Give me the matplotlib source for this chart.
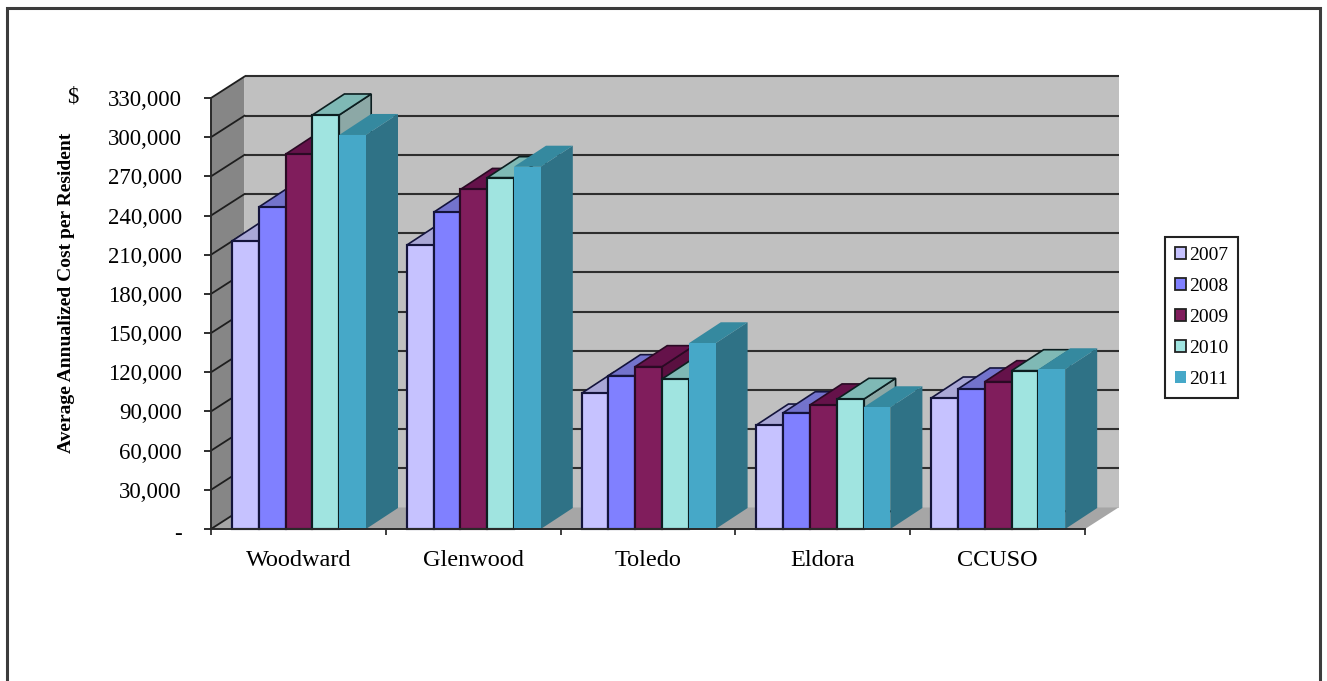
import matplotlib
matplotlib.use("Agg")
import matplotlib.pyplot as plt
from matplotlib.patches import Patch, Rectangle
from matplotlib.transforms import ScaledTranslation

plt.rcParams['font.family'] = ['Liberation Serif', 'DejaVu Serif']

# Данные: средние годовые расходы на одного жителя
facilities = ["Woodward", "Glenwood", "Toledo", "Eldora", "CCUSO"]
years = ["2007", "2008", "2009", "2010", "2011"]
cost_2007 = [220500, 217400, 103900, 79600, 100300]
cost_2008 = [246500, 242500, 117400, 89000, 107200]
cost_2009 = [287000, 260000, 124300, 95000, 112800]
cost_2010 = [317000, 269000, 114800, 99300, 121200]
cost_2011 = [301700, 277400, 142200, 93200, 122300]
costs = [cost_2007, cost_2008, cost_2009, cost_2010, cost_2011]
y_ticks = list(range(0, 330001, 30000))
y_labels = ["-"] + [f"{v:,}" for v in y_ticks[1:]]

front_colors = ["#C6C2FF", "#8080FF", "#801D5C", "#A0E4E0", "#46A8C8"]
top_colors = ["#A9A7D6", "#7373CC", "#65124A", "#7FB9B5", "#35899F"]
side_colors = ["#9D9ACB", "#6262B5", "#5A1040", "#8CA8A6", "#2F7286"]
edge_colors = ["#14143C", "#14143C", "#2A0A24", "#0C1E20", "none"]

W, H = 1327, 681
AX_L, AX_R, AX_T, AX_B = 211, 1085, 98, 529
px_x = 5 / (AX_R - AX_L)
px_y = 330000 / (AX_B - AX_T)

# Смещение глубины для псевдо-3D (стенки и столбцы)
wall_dx, wall_dy = 33.5 * px_x, 21.5 * px_y
bar_dx, bar_dy = 32 * px_x, 21 * px_y
bar_w = 26.8 * px_x
group_start = (232 - AX_L) * px_x

fig = plt.figure(figsize=(W / 100, H / 100), dpi=100)
fig.add_artist(Rectangle((7 / W, -0.02), (1320 - 7) / W, 1.02 - 8 / H,
                         transform=fig.transFigure, fill=False,
                         edgecolor="#3C3C3C", linewidth=2.2))

ax = fig.add_axes([AX_L / W, 1 - AX_B / H, (AX_R - AX_L) / W, (AX_B - AX_T) / H])
ax.patch.set_visible(False)
ax.set_xlim(0, 5)
ax.set_ylim(0, 330000)

# Задняя стенка, левая стенка и пол
ax.fill([wall_dx, 5 + wall_dx, 5 + wall_dx, wall_dx],
        [wall_dy, wall_dy, 330000 + wall_dy, 330000 + wall_dy],
        color="#C0C0C0", clip_on=False, zorder=1, lw=0)
ax.fill([0, wall_dx, wall_dx, 0], [0, wall_dy, 330000 + wall_dy, 330000],
        color="#868686", clip_on=False, zorder=1, lw=0)
ax.fill([0, 5, 5 + wall_dx, wall_dx], [0, 0, wall_dy, wall_dy],
        color="#A6A6A6", clip_on=False, zorder=1, lw=0)

# Линии сетки
for v in y_ticks[1:]:
    ax.plot([wall_dx, 5 + wall_dx], [v + wall_dy, v + wall_dy], color="#2E2E2E",
            lw=1.5, clip_on=False, zorder=2, solid_capstyle="butt")
for v in y_ticks:
    ax.plot([0, wall_dx], [v, v + wall_dy], color="#1E1E1E", lw=1.3,
            clip_on=False, zorder=2)

# Столбцы: боковая грань, верхняя грань, передняя грань
z = 3
for i in range(len(facilities)):
    for j in range(len(years)):
        value = costs[j][i]
        x0 = i + group_start + j * bar_w
        x1 = x0 + bar_w
        edge = edge_colors[j]
        lw = 1.2 if edge != "none" else 0
        ax.fill([x1, x1 + bar_dx, x1 + bar_dx, x1],
                [0, bar_dy, value + bar_dy, value],
                facecolor=side_colors[j], edgecolor=edge, lw=lw,
                clip_on=False, zorder=z)
        ax.fill([x0, x1, x1 + bar_dx, x0 + bar_dx],
                [value, value, value + bar_dy, value + bar_dy],
                facecolor=top_colors[j], edgecolor=edge, lw=lw,
                clip_on=False, zorder=z + 0.1)
        ax.bar(x0, value, width=bar_w, align="edge", color=front_colors[j],
               edgecolor=edge, linewidth=lw * 1.3, clip_on=False, zorder=z + 0.2)
        z += 1

# Оси
for side in ["top", "right"]:
    ax.spines[side].set_visible(False)
for side in ["left", "bottom"]:
    ax.spines[side].set_color("#2A2A2A")
    ax.spines[side].set_linewidth(1.4)
    ax.spines[side].set_zorder(z + 1)

ax.set_yticks(y_ticks)
ax.set_yticklabels(y_labels, fontsize=16.5)
ax.tick_params(axis="y", length=5, width=1.3, pad=16, color="#1E1E1E")

ax.set_xticks(range(6))
ax.set_xticklabels([])
ax.set_xticks([i + 0.5 for i in range(5)], minor=True)
ax.set_xticklabels(facilities, minor=True, fontsize=17.5)
ax.tick_params(axis="x", which="major", length=4, width=1.2, color="#1E1E1E")
ax.tick_params(axis="x", which="minor", length=0, pad=15)

# Подпись "-" у нуля стоит чуть ниже деления
zero_label = ax.get_yticklabels()[0]
zero_label.set_transform(zero_label.get_transform()
                         + ScaledTranslation(0, -0.03, fig.dpi_scale_trans))

ax.set_ylabel("Average Annualized Cost per Resident", fontsize=14, fontweight="bold")
ax.yaxis.set_label_coords((75 - AX_L) / (AX_R - AX_L), (AX_B - 293) / (AX_B - AX_T))
fig.text(73 / W, 1 - 97 / H, "$", fontsize=16.5, ha="center", va="center")

# Легенда
handles = [Patch(facecolor=front_colors[j],
                 edgecolor="#222222" if edge_colors[j] != "none" else "none",
                 linewidth=1.3, label=years[j]) for j in range(len(years))]
leg = fig.legend(handles=handles, loc="upper left",
                 bbox_to_anchor=(1165 / W, 1 - 237 / H), borderaxespad=0,
                 fontsize=14, fancybox=False, framealpha=1, edgecolor="#222222",
                 handlelength=0.6, handleheight=0.6, handletextpad=0.13,
                 labelspacing=0.72, borderpad=0.5)
leg.get_frame().set_linewidth(1.5)

plt.savefig("out.png", dpi=100)
